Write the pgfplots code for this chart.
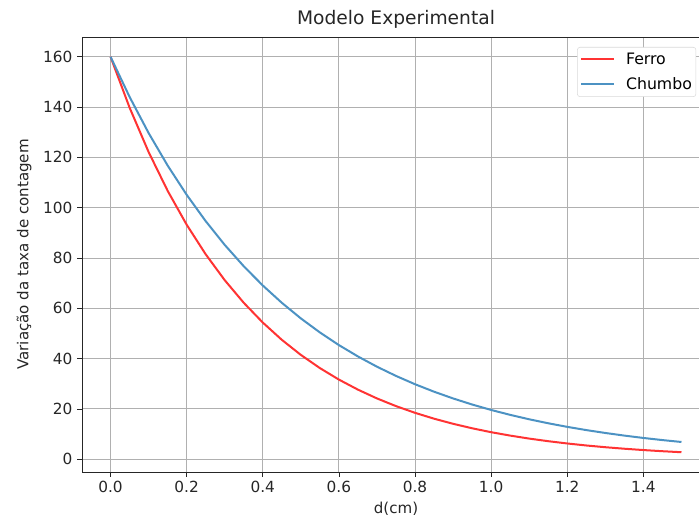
\documentclass[border=0pt]{standalone}
\usepackage{fontspec}
\setmainfont{DejaVu Sans}
\usepackage{pgfplots}
\pgfplotsset{compat=1.18}
\definecolor{ferro}{RGB}{255,51,51}
\definecolor{chumbo}{RGB}{76,146,195}
\definecolor{gridc}{RGB}{176,176,176}
\begin{document}
\begin{tikzpicture}
\begin{axis}[
  at={(0,0)}, anchor=south west,
  width=471pt, height=326.25pt, scale only axis,
  xmin=-0.075, xmax=1.575, ymin=-5.07, ymax=167.86,
  xtick={0,0.2,0.4,0.6,0.8,1.0,1.2,1.4},
  ytick={0,20,40,60,80,100,120,140,160},
  xticklabel style={/pgf/number format/.cd, fixed, fixed zerofill, precision=1},
  /pgf/number format/assume math mode=true,
  tick label style={font=\fontsize{11.5}{13}\selectfont, text=black!85},
  label style={font=\fontsize{11.3}{13}\selectfont, text=black!85},
  ylabel style={yshift=2pt},
  title style={font=\fontsize{14}{16}\selectfont, text=black!85, yshift=-3pt},
  title={Modelo Experimental},
  xlabel={d(cm)}, ylabel={Variação da taxa de contagem},
  tick align=outside, major tick length=3.6pt,
  tick style={black!85, line width=0.6pt},
  axis line style={black!85, line width=0.6pt},
  xtick pos=bottom, ytick pos=left,
  grid=major, major grid style={gridc, line width=0.7pt},
  legend cell align=left,
  legend style={at={(0.978,0.977)}, anchor=north east, draw=black!15,
    rounded corners=2pt, font=\fontsize{11.8}{13}\selectfont, fill=white,
    inner xsep=2pt, inner ysep=3pt, row sep=6.5pt, column sep=7pt,
    nodes={inner sep=1pt}},
  legend image code/.code={\draw[#1, line width=1.5pt] (0pt,0pt) -- (25pt,0pt);},
]
\addplot[ferro, line width=1.5pt] coordinates {
(0,160) (0.05,139.80) (0.1,122.14) (0.15,106.72) (0.2,93.24) (0.25,81.47)
(0.3,71.18) (0.35,62.19) (0.4,54.34) (0.45,47.47) (0.5,41.48) (0.55,36.24)
(0.6,31.66) (0.65,27.67) (0.7,24.17) (0.75,21.12) (0.8,18.45) (0.85,16.12)
(0.9,14.09) (0.95,12.31) (1.0,10.75) (1.05,9.40) (1.1,8.21) (1.15,7.17)
(1.2,6.27) (1.25,5.47) (1.3,4.78) (1.35,4.18) (1.4,3.65) (1.45,3.19) (1.5,2.79)
};
\addlegendentry{Ferro}
\addplot[chumbo, line width=1.5pt] coordinates {
(0,160) (0.05,144.05) (0.1,129.69) (0.15,116.77) (0.2,105.13) (0.25,94.65)
(0.3,85.21) (0.35,76.72) (0.4,69.07) (0.45,62.19) (0.5,55.99) (0.55,50.41)
(0.6,45.38) (0.65,40.86) (0.7,36.79) (0.75,33.12) (0.8,29.82) (0.85,26.85)
(0.9,24.17) (0.95,21.76) (1.0,19.59) (1.05,17.64) (1.1,15.88) (1.15,14.30)
(1.2,12.87) (1.25,11.59) (1.3,10.44) (1.35,9.40) (1.4,8.46) (1.45,7.62) (1.5,6.86)
};
\addlegendentry{Chumbo}
\end{axis}
\pgfresetboundingbox
\path[use as bounding box] (-61.5pt,-38.25pt) rectangle (462.75pt,354pt);
\end{tikzpicture}
\end{document}
